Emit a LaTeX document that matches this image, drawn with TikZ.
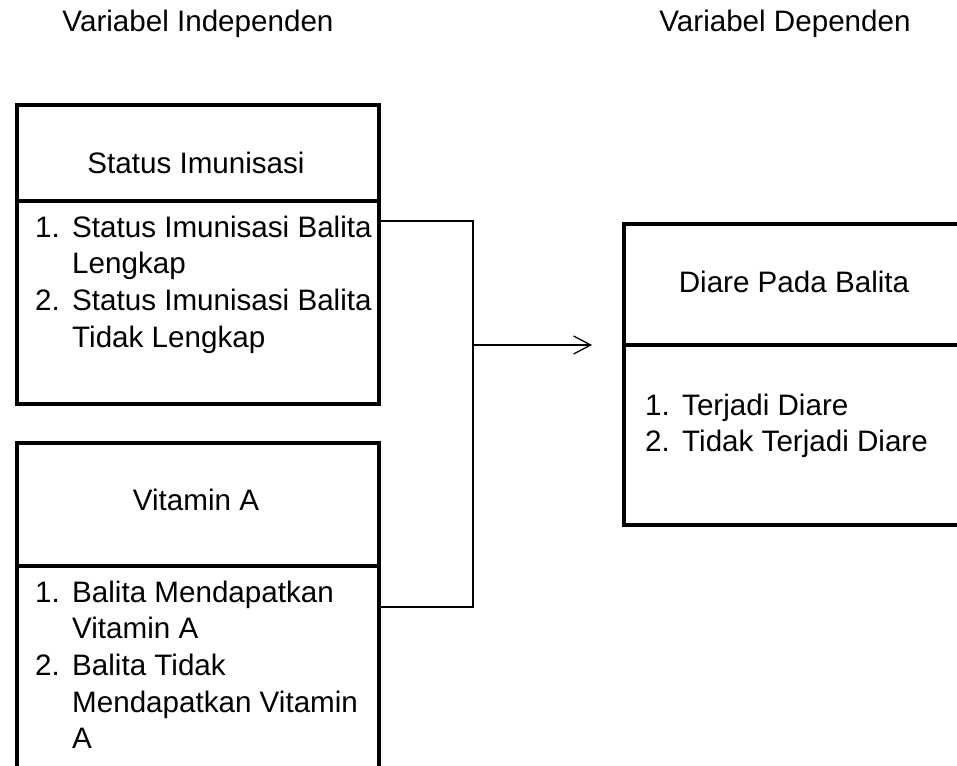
\documentclass[tikz,border=0pt]{standalone}
\usepackage{fontspec}
\setmainfont{Liberation Sans}
\usetikzlibrary{arrows.meta}
\newcommand{\numitem}[1]{\makebox[37pt][l]{#1}}
\newcommand{\hang}{\hspace*{37pt}}
\begin{document}
\begin{tikzpicture}[x=1pt, y=-1pt, font=\fontsize{29.6}{36.7}\selectfont]
        \def\bw{362.5}
        \tikzset{varbox/.style={rectangle, draw=black, line width=4pt, anchor=north west,
                inner sep=0pt, minimum width=\bw pt},
            conn/.style={line width=1.3pt},
            txt/.style={inner sep=0pt, anchor=base, align=left}}

        \useasboundingbox (0,0) rectangle (957,765);
        \clip (0,0) rectangle (957,765);

        \node[txt] (tin) at (198,32) {Variabel Independen};
        \node[txt] (tdep) at (785,32) {Variabel Dependen};

        % independent variables (base = last line)
        \node[varbox, minimum height=95.3pt] (hd1) at (14.5,103.5) {};
        \node[varbox, minimum height=202.7pt] (bd1) at (14.5,198.8) {};
        \node[txt] (t1) at (196,173) {Status Imunisasi};
        \node[txt, anchor=base west] (l1) at (35,347.1) {\numitem{1.}Status Imunisasi Balita\\
            \hang Lengkap\\ \numitem{2.}Status Imunisasi Balita\\ \hang Tidak Lengkap};

        \node[varbox, minimum height=123.8pt] (hd2) at (14.5,440.5) {};
        \node[varbox, minimum height=300pt] (bd2) at (14.5,564.3) {};
        \node[txt] (t2) at (196,510) {Vitamin A};
        \node[txt, anchor=base west] (l2) at (35,748.8) {\numitem{1.}Balita Mendapatkan\\
            \hang Vitamin A\\ \numitem{2.}Balita Tidak\\ \hang Mendapatkan Vitamin\\ \hang A};

        % dependent variable
        \node[varbox, minimum width=400pt, minimum height=121.3pt] (hd3) at (622,221.7) {};
        \node[varbox, minimum width=400pt, minimum height=179.5pt] (bd3) at (622,343) {};
        \node[txt] (t3) at (794,292) {Diare Pada Balita};
        \node[txt, anchor=base west] (l3) at (645,451.7) {\numitem{1.}Terjadi Diare\\
            \numitem{2.}Tidak Terjadi Diare};

        % connectors
        \coordinate (c1) at (473,221);
        \coordinate (c2) at (473,607);
        \coordinate (jn) at (473,345);
        \draw[conn] (bd1.east |- c1) -- (c1) -- (c2) -- (bd2.east |- c2);
        \draw[conn, -{Straight Barb[length=17pt, width=18pt]}] (jn) -- ([xshift=-30pt]jn -| bd3.west);

\end{tikzpicture}
\end{document}
